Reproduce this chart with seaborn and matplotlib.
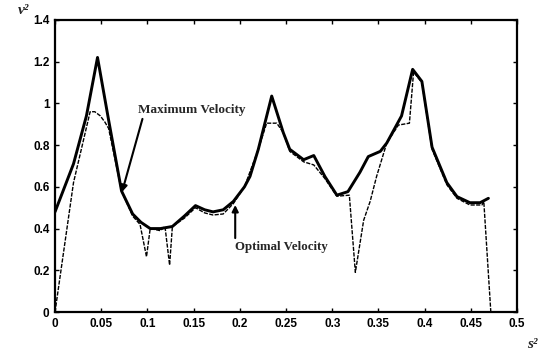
import numpy as np
import pandas as pd
import matplotlib
matplotlib.use("Agg")
import matplotlib.pyplot as plt
import seaborn as sns

# ---- data ----
s_max = [0, 0.020, 0.034, 0.046, 0.058, 0.072, 0.084, 0.093, 0.103, 0.114, 0.127,
         0.140, 0.152, 0.162, 0.171, 0.182, 0.193, 0.205, 0.211, 0.220, 0.2345,
         0.247, 0.254, 0.269, 0.280, 0.292, 0.305, 0.317, 0.330, 0.339, 0.352,
         0.359, 0.375, 0.387, 0.397, 0.408, 0.424, 0.435, 0.449, 0.460, 0.469]
v_max = [0.48, 0.71, 0.94, 1.22, 0.92, 0.58, 0.47, 0.43, 0.40, 0.40, 0.41,
         0.46, 0.51, 0.49, 0.48, 0.49, 0.53, 0.60, 0.65, 0.78, 1.035,
         0.86, 0.78, 0.73, 0.75, 0.65, 0.56, 0.577, 0.67, 0.745, 0.77,
         0.81, 0.94, 1.163, 1.105, 0.79, 0.62, 0.553, 0.524, 0.524, 0.545]

s_opt = [0, 0.020, 0.038, 0.043, 0.049, 0.054, 0.058, 0.065, 0.072, 0.084, 0.092,
         0.099, 0.103, 0.114, 0.119, 0.124, 0.127, 0.140, 0.152, 0.162, 0.171,
         0.182, 0.193, 0.205, 0.220, 0.229, 0.240, 0.247, 0.254, 0.269, 0.280,
         0.292, 0.305, 0.3185, 0.325, 0.334, 0.341, 0.348, 0.359, 0.3716, 0.3835,
         0.388, 0.397, 0.408, 0.424, 0.435, 0.449, 0.462, 0.464, 0.4716]
v_opt = [0, 0.62, 0.96, 0.96, 0.94, 0.91, 0.88, 0.73, 0.58, 0.46, 0.42,
         0.265, 0.40, 0.39, 0.41, 0.225, 0.41, 0.45, 0.50, 0.475, 0.465,
         0.47, 0.52, 0.60, 0.78, 0.905, 0.905, 0.86, 0.77, 0.72, 0.705,
         0.64, 0.555, 0.56, 0.19, 0.44, 0.53, 0.65, 0.81, 0.896, 0.905,
         1.15, 1.10, 0.78, 0.61, 0.545, 0.513, 0.513, 0.53, 0]

x_ticks = [0, 0.05, 0.1, 0.15, 0.2, 0.25, 0.3, 0.35, 0.4, 0.45, 0.5]
x_labels = ["0", "0.05", "0.1", "0.15", "0.2", "0.25", "0.3", "0.35", "0.4", "0.45", "0.5"]
y_ticks = [0, 0.2, 0.4, 0.6, 0.8, 1.0, 1.2, 1.4]
y_labels = ["0", "0.2", "0.4", "0.6", "0.8", "1", "1.2", "1.4"]

df_max = pd.DataFrame({"s": s_max, "v": v_max})
df_opt = pd.DataFrame({"s": s_opt, "v": v_opt})

sns.set_theme(style="ticks")
plt.rcParams["font.family"] = ["Liberation Sans", "DejaVu Sans"]

fig = plt.figure(figsize=(5.42, 3.55), dpi=100)
ax = fig.add_axes([0.1015, 0.121, 0.8525, 0.823])

sns.lineplot(data=df_max, x="s", y="v", sort=False, color="black", linewidth=2.1, ax=ax)
sns.lineplot(data=df_opt, x="s", y="v", sort=False, color="black", linewidth=1.0,
             linestyle=(0, (3, 1)), ax=ax)

ax.set_xlim(0, 0.5)
ax.set_ylim(0, 1.4)
ax.set_xticks(x_ticks)
ax.set_xticklabels(x_labels, fontsize=8.5, fontweight="bold")
ax.set_yticks(y_ticks)
ax.set_yticklabels(y_labels, fontsize=8.5, fontweight="bold")
ax.tick_params(direction="in", length=3, width=1, top=True, right=True, colors="black", pad=4)
for sp in ax.spines.values():
    sp.set_visible(True)
    sp.set_linewidth(1.6)
    sp.set_color("black")
ax.set_xlabel("")
ax.set_ylabel("")

# annotations
ax.annotate("Maximum Velocity", xy=(0.0725, 0.575), xytext=(0.0898, 0.97),
            fontsize=9.5, fontweight="bold", family="Liberation Serif",
            va="center", ha="left",
            arrowprops=dict(arrowstyle="-|>", color="black", lw=1.5,
                            shrinkA=0, shrinkB=0, relpos=(0.05, 0.0)))
ax.annotate("Optimal Velocity", xy=(0.195, 0.513), xytext=(0.195, 0.31),
            fontsize=9.3, fontweight="bold", family="Liberation Serif",
            va="center", ha="left",
            arrowprops=dict(arrowstyle="-|>", color="black", lw=1.5,
                            shrinkA=0, shrinkB=0, relpos=(0.0, 0.7)))

fig.text(24 / 542, 1 - 11 / 355, "v²", fontsize=11, ha="center", va="center",
         family="Liberation Serif", fontstyle="italic", fontweight="bold")
fig.text(532 / 542, 1 - 345 / 355, "s²", fontsize=11, ha="center", va="center",
         family="Liberation Serif", fontstyle="italic", fontweight="bold")

fig.savefig("out.png", dpi=100)
